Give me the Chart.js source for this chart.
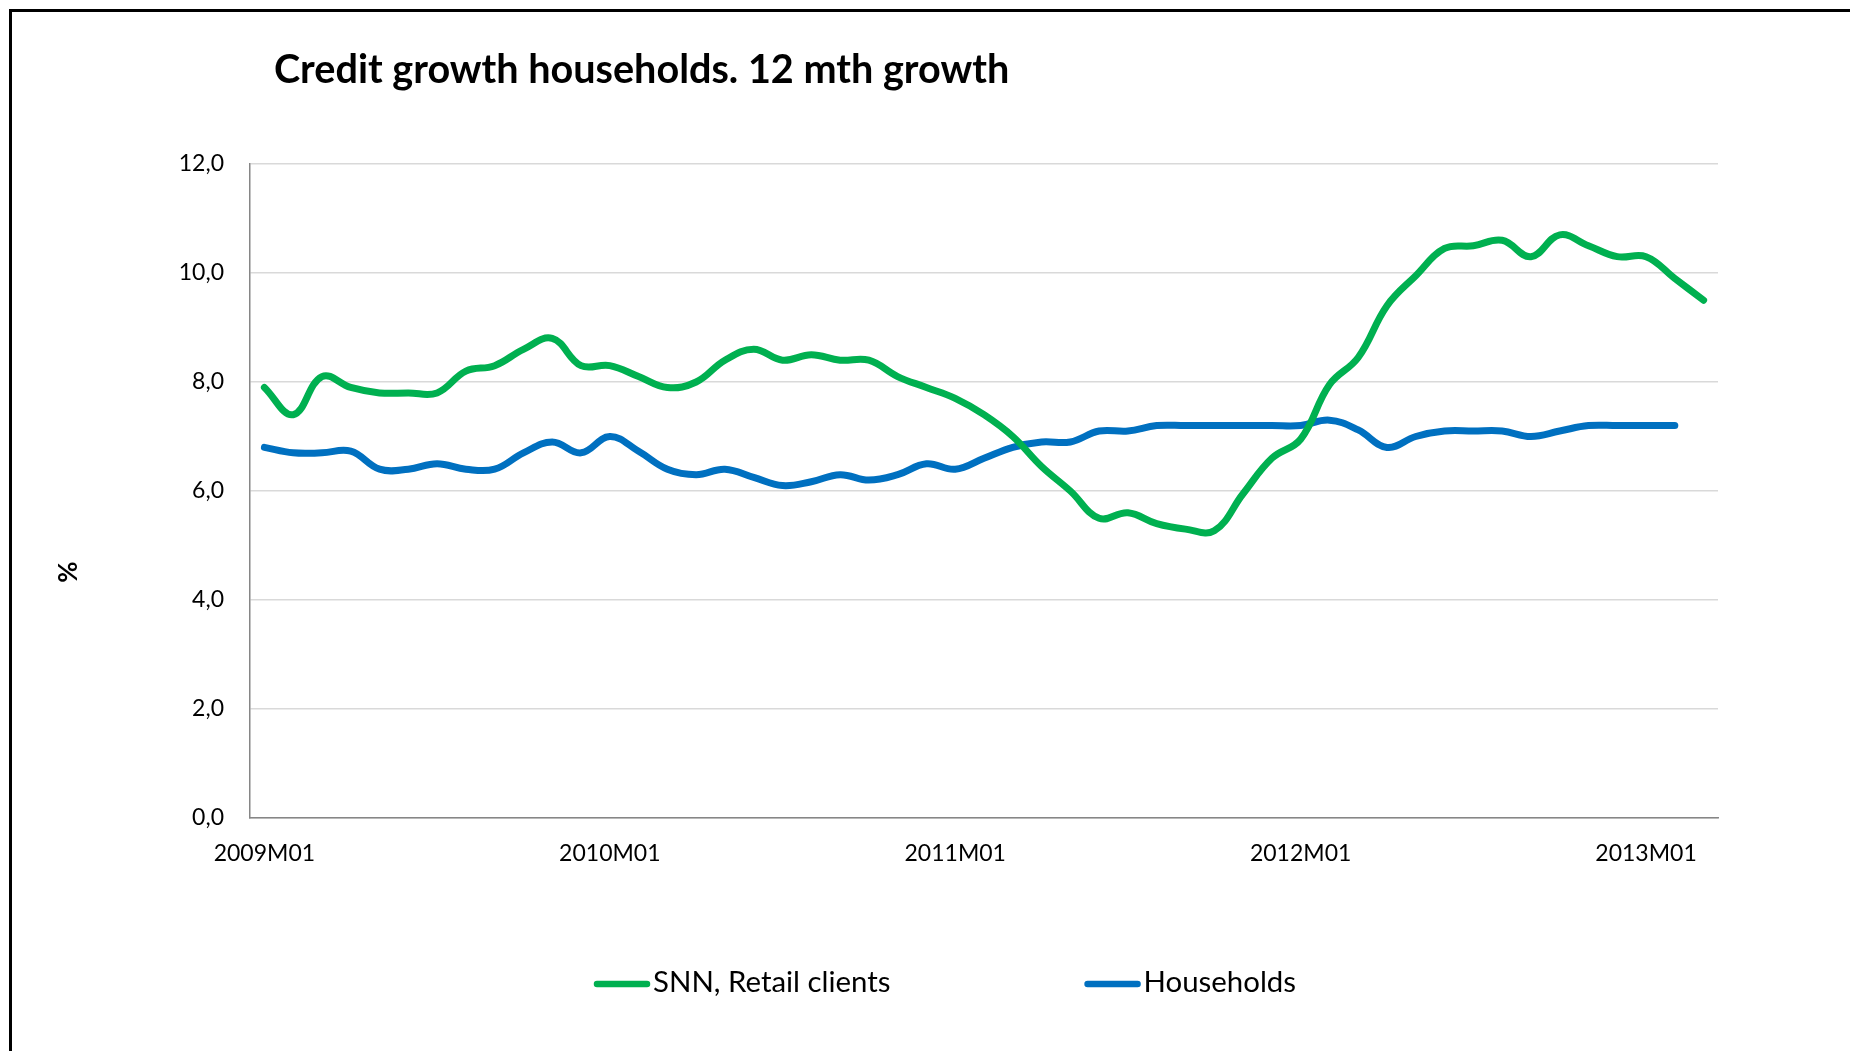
<!DOCTYPE html>
<html>
<head>
<meta charset="utf-8">
<title>Credit growth households</title>
<script src="https://cdn.jsdelivr.net/npm/chart.js@4.4.1/dist/chart.umd.min.js"></script>
<style>
  html, body { margin: 0; padding: 0; background: #fff; overflow: hidden; }
  #chart { position: absolute; left: 0; top: 0; }
  #frame { position: absolute; left: 9px; top: 9px; width: 1900px; height: 1100px;
           border-top: 3px solid #000; border-left: 3px solid #000; }
</style>
</head>
<body>
<canvas id="chart" width="1850" height="1051"></canvas>
<div id="frame"></div>
<script>
// data: 12 month growth, monthly from 2009M01
const chartTitle = 'Credit growth households. 12 mth growth';
const unitLabel = '%';
const seriesNames = ['SNN, Retail clients', 'Households'];
const seriesColors = ['#00b050', '#0070c0'];

const months = [];
for (let y = 2009; y <= 2013; y++) {
  for (let m = 1; m <= 12; m++) {
    if (y === 2013 && m > 3) break;
    months.push(y + 'M' + String(m).padStart(2, '0'));
  }
}

const snnRetail = [
  7.9, 7.4, 8.1, 7.9, 7.8, 7.8, 7.8, 8.2, 8.3, 8.6, 8.8, 8.3,
  8.3, 8.1, 7.9, 8.0, 8.4, 8.6, 8.4, 8.5, 8.4, 8.4, 8.1, 7.9,
  7.7, 7.4, 7.0, 6.45, 6.0, 5.5, 5.6, 5.4, 5.3, 5.27, 5.95, 6.6,
  6.95, 7.95, 8.45, 9.4, 9.95, 10.45, 10.5, 10.6, 10.3, 10.7, 10.5, 10.3,
  10.3, 9.9, 9.5
];
const households = [
  6.8, 6.7, 6.7, 6.73, 6.4, 6.4, 6.5, 6.4, 6.4, 6.7, 6.9, 6.7,
  7.0, 6.73, 6.4, 6.3, 6.4, 6.25, 6.1, 6.17, 6.3, 6.2, 6.3, 6.5,
  6.4, 6.6, 6.8, 6.9, 6.9, 7.1, 7.1, 7.2, 7.2, 7.2, 7.2, 7.2,
  7.2, 7.3, 7.12, 6.8, 7.0, 7.1, 7.1, 7.1, 7.0, 7.1, 7.2, 7.2,
  7.2, 7.2
];

Chart.defaults.font.family = 'Lato, "Open Sans", sans-serif';

// title, rotated unit label and the line legend under the axis
const decorations = {
  id: 'decorations',
  afterDraw(chart) {
    const ctx = chart.ctx;
    const area = chart.chartArea;
    ctx.save();
    ctx.fillStyle = '#000';

    ctx.font = 'bold 39.6px Lato';
    ctx.textAlign = 'left';
    ctx.textBaseline = 'alphabetic';
    ctx.fillText(chartTitle, area.left + 24, 83);

    ctx.save();
    ctx.translate(69, 572);
    ctx.rotate(-Math.PI / 2);
    ctx.font = 'bold 26px Lato';
    ctx.textAlign = 'center';
    ctx.textBaseline = 'middle';
    ctx.fillText(unitLabel, 0, 0);
    ctx.restore();

    ctx.font = '29.4px Lato';
    ctx.textBaseline = 'middle';
    let x = area.left + 344;
    const y = 984;
    chart.data.datasets.forEach((ds) => {
      ctx.strokeStyle = ds.borderColor;
      ctx.lineWidth = 6.5;
      ctx.lineCap = 'round';
      ctx.beginPath();
      ctx.moveTo(x + 3, y);
      ctx.lineTo(x + 53, y);
      ctx.stroke();
      ctx.fillText(ds.label, x + 59, y - 1);
      x += 59 + ctx.measureText(ds.label).width + 194;
    });
    ctx.restore();
  }
};

const lineSet = (label, data, color) => ({
  label: label,
  data: data,
  borderColor: color,
  backgroundColor: color,
  borderWidth: 7,
  borderCapStyle: 'round',
  borderJoinStyle: 'round',
  pointRadius: 0,
  tension: 0.4,
  fill: false
});

new Chart(document.getElementById('chart'), {
  type: 'line',
  data: {
    labels: months,
    datasets: [
      lineSet(seriesNames[0], snnRetail, seriesColors[0]),
      lineSet(seriesNames[1], households, seriesColors[1])
    ]
  },
  options: {
    responsive: false,
    animation: false,
    layout: { padding: { left: 130, right: 132, top: 164, bottom: 173 } },
    plugins: {
      legend: { display: false },
      title: { display: false },
      tooltip: { enabled: false }
    },
    scales: {
      x: {
        offset: true,
        grid: { display: false, drawTicks: false },
        border: { display: true, color: '#868686', width: 1.5 },
        ticks: {
          autoSkip: false,
          maxRotation: 0,
          padding: 22,
          color: '#000',
          font: { size: 23 },
          callback: (v, i) => (i % 12 === 0 ? months[i] : null)
        },
        afterFit: (s) => { s.height = 60; }
      },
      y: {
        min: 0,
        max: 12,
        grid: { color: '#d9d9d9', lineWidth: 1.5, drawTicks: false },
        border: { color: '#868686', width: 1.5 },
        ticks: {
          stepSize: 2,
          padding: 26,
          color: '#000',
          font: { size: 23 },
          callback: (v) => v.toFixed(1).replace('.', ',')
        },
        afterFit: (s) => { s.width = 120; }
      }
    }
  },
  plugins: [decorations]
});
</script>
</body>
</html>
